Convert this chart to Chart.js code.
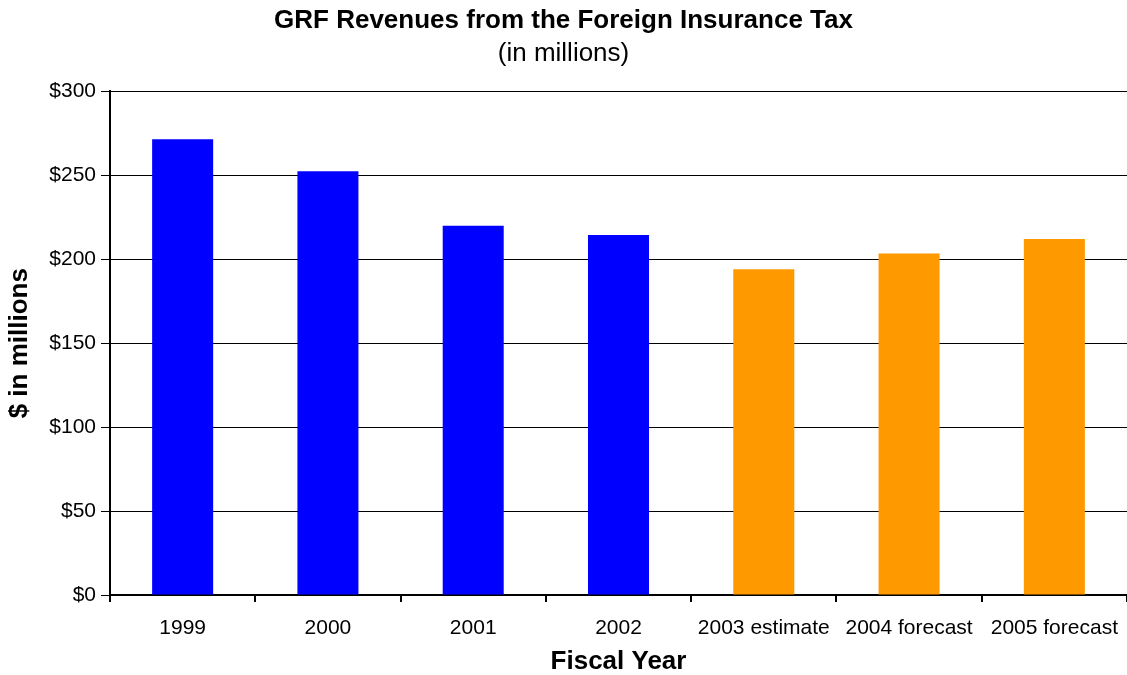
<!DOCTYPE html>
<html>
<head>
<meta charset="utf-8">
<title>GRF Revenues from the Foreign Insurance Tax</title>
<script src="https://cdn.jsdelivr.net/npm/chart.js@4/dist/chart.umd.min.js"></script>
<style>
  html, body { margin: 0; padding: 0; background: #fff; }
  .chart-wrap { width: 1127px; height: 675px; }
</style>
</head>
<body>
<div class="chart-wrap"><canvas id="revChart"></canvas></div>
<script>
// data
const fiscalYears = ["1999", "2000", "2001", "2002", "2003 estimate", "2004 forecast", "2005 forecast"];
const revenues = [271.5, 252.5, 220, 214.5, 194, 203.5, 212];
const yTicks = [0, 50, 100, 150, 200, 250, 300];

// actual years are blue, estimate/forecast years orange
const barColors = fiscalYears.map(y => /estimate|forecast/.test(y) ? "#ff9900" : "#0000ff");

const font = "Arial, 'Liberation Sans', sans-serif";

const config = {
  type: "bar",
  data: {
    labels: fiscalYears,
    datasets: [{
      label: "Revenue",
      data: revenues,
      backgroundColor: barColors,
      borderWidth: 0,
      categoryPercentage: 1,
      barPercentage: 0.42,
    }],
  },
  options: {
    responsive: false,
    animation: false,
    layout: { padding: { left: 0, right: 0, top: 0, bottom: 0 } },
    plugins: {
      legend: { display: false },
      tooltip: { enabled: false },
      title: {
        display: true,
        text: "GRF Revenues from the Foreign Insurance Tax",
        color: "#000",
        font: { family: font, size: 26, weight: "bold" },
        padding: { top: 5, bottom: 0 },
      },
      subtitle: {
        display: true,
        text: "(in millions)",
        color: "#000",
        font: { family: font, size: 26, weight: "normal" },
        padding: { top: 2, bottom: 22 },
      },
    },
    scales: {
      x: {
        // fixed band under the plot; let the last label run to the canvas edge
        afterFit: (s) => { s.height = 80; s.paddingLeft = 0; s.paddingRight = 0; },
        grid: { drawOnChartArea: false, offset: true, color: "#000", lineWidth: 2, tickLength: 7 },
        border: { display: true, color: "#000", width: 2 },
        ticks: {
          color: "#000",
          font: { family: font, size: 21 },
          padding: 14,
          maxRotation: 0,
          autoSkip: false,
        },
        title: {
          display: true,
          text: "Fiscal Year",
          color: "#000",
          font: { family: font, size: 26, weight: "bold" },
          padding: { top: 0, bottom: -2 },
        },
      },
      y: {
        min: 0,
        max: 300,
        afterFit: (s) => { s.width = 110; },
        afterBuildTicks: (s) => { s.ticks = yTicks.map(v => ({ value: v })); },
        grid: { color: "#000", lineWidth: 1, tickLength: 9 },
        border: { display: true, color: "#000", width: 2 },
        ticks: {
          color: "#000",
          font: { family: font, size: 21 },
          padding: 5,
          callback: (v) => "$" + v,
        },
        title: {
          display: true,
          text: "$ in millions",
          color: "#000",
          font: { family: font, size: 26, weight: "bold" },
          padding: { top: 4, bottom: 0 },
        },
      },
    },
  },
};

const canvas = document.getElementById("revChart");
canvas.width = 1127;
canvas.height = 675;
const revChart = new Chart(canvas, config);
</script>
</body>
</html>
